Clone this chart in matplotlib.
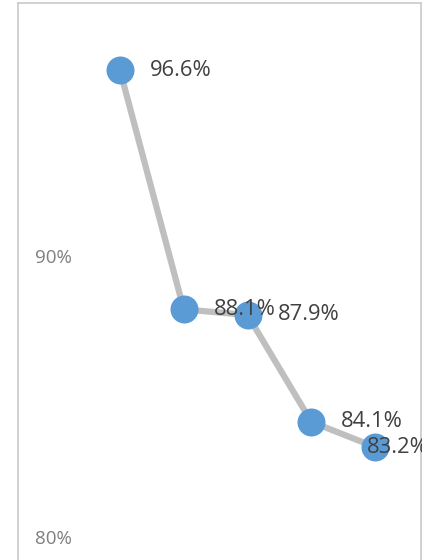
import matplotlib.pyplot as plt
import numpy as np

# yearly rates (percent)
values = [96.6, 88.1, 87.9, 84.1, 83.2]
labels = ["96.6%", "88.1%", "87.9%", "84.1%", "83.2%"]
yticks = [80, 90]
ytick_labels = ["80%", "90%"]

plt.rcParams['font.family'] = ['Open Sans', 'DejaVu Sans']

W, H = 422, 560
fig = plt.figure(figsize=(W / 100, H / 100), dpi=100)
# plot area runs past the bottom edge of the image
ax = fig.add_axes([18 / W, 1 - 600 / H, (421 - 18) / W, 597 / H])

x = np.arange(len(values))
ax.plot(x, values, color="#bfbfbf", lw=4.5, zorder=2, solid_capstyle="round")
ax.scatter(x, values, s=28 ** 2 * 0.72 ** 2, color="#5b9bd5", zorder=3, linewidths=0)

for i, (v, t) in enumerate(zip(values, labels)):
    dx = 21.5 if i < len(values) - 1 else -6
    ax.annotate(t, (i, v), xytext=(dx, 0), textcoords="offset points",
                ha="left", va="center", fontsize=15.8, color="#404040", zorder=4,
                annotation_clip=False)

ax.set_xlim(-1.6, 4.72)
ax.set_ylim(77.76, 99.0)
ax.set_xticks([])
ax.set_yticks(yticks)
ax.set_yticklabels(ytick_labels)
ax.tick_params(axis="y", length=0, pad=-12, labelsize=13.5, labelcolor="#7f7f7f")
for lbl in ax.get_yticklabels():
    lbl.set_horizontalalignment("left")

for s in ax.spines.values():
    s.set_color("#c9c9c9")
    s.set_linewidth(1.2)

fig.savefig("out.png", dpi=100)
